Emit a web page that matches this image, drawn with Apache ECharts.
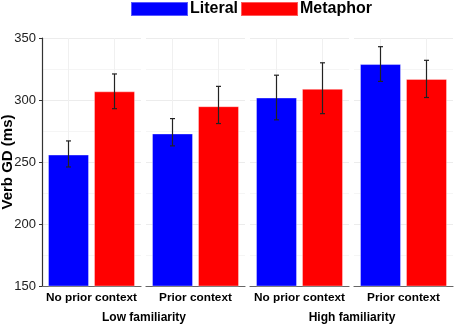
<!DOCTYPE html>
<html>
<head>
<meta charset="utf-8">
<script src="https://cdn.jsdelivr.net/npm/echarts@6/dist/echarts.min.js"></script>
<style>
  html, body { margin: 0; padding: 0; background: #fff; }
  #chart { width: 454px; height: 326px; }
</style>
</head>
<body>
<div id="chart"></div>
<script>
// conditions, one per panel
var conditions = ['No prior context', 'Prior context', 'No prior context', 'Prior context'];
var familiarity = ['Low familiarity', 'High familiarity'];
var seriesNames = ['Literal', 'Metaphor'];
var yTitle = 'Verb GD (ms)';

// means and error bar ends (ms)
var literal = [256, 273, 302, 329];
var literalLow = [246, 263, 284, 315];
var literalHigh = [267, 285, 320, 343];
var metaphor = [307, 295, 309, 317];
var metaphorLow = [293, 281, 289, 302];
var metaphorHigh = [321, 311, 330, 332];

var yTicks = [150, 200, 250, 300, 350];

var FONT = 'Liberation Sans, Arial, sans-serif';
var colors = ['#0000ff', '#ff0000'];
var barW = 41, barGap = 5;
var off = (barW + barGap) / 2;

var panelLeft = [42, 146, 250, 354];
var panelW = 99;
var plotTop = 38, plotH = 248;

var grids = [], xAxes = [], yAxes = [], series = [];

function errRender(offset) {
  return function (params, api) {
    var lo = api.coord([api.value(0), api.value(1)]);
    var hi = api.coord([api.value(0), api.value(2)]);
    var x = lo[0] + offset;
    var cap = 2.5;
    var st = { stroke: '#222', lineWidth: 1.2 };
    return {
      type: 'group',
      children: [
        { type: 'line', shape: { x1: x, y1: lo[1], x2: x, y2: hi[1] }, style: st },
        { type: 'line', shape: { x1: x - cap, y1: lo[1], x2: x + cap, y2: lo[1] }, style: st },
        { type: 'line', shape: { x1: x - cap, y1: hi[1], x2: x + cap, y2: hi[1] }, style: st }
      ]
    };
  };
}

// faint vertical grid lines at bar centres
function vgridRender(params, api) {
  var a = api.coord([0, yTicks[yTicks.length - 1]]);
  var b = api.coord([0, yTicks[0]]);
  var st = { stroke: '#f0f0f0', lineWidth: 1 };
  return {
    type: 'group',
    children: [
      { type: 'line', shape: { x1: a[0] - off, y1: a[1], x2: a[0] - off, y2: b[1] }, style: st },
      { type: 'line', shape: { x1: a[0] + off, y1: a[1], x2: a[0] + off, y2: b[1] }, style: st }
    ]
  };
}

for (var i = 0; i < conditions.length; i++) {
  grids.push({ left: panelLeft[i], width: panelW, top: plotTop, height: plotH });
  xAxes.push({
    type: 'category',
    gridIndex: i,
    data: [conditions[i]],
    axisLine: { show: true, lineStyle: { color: '#666', width: 1.2 } },
    axisTick: { show: false },
    axisLabel: { color: '#000', fontFamily: FONT, fontWeight: 'bold', fontSize: 11.8, margin: 6 },
    splitLine: { show: false }
  });
  yAxes.push({
    type: 'value',
    gridIndex: i,
    min: yTicks[0],
    max: yTicks[yTicks.length - 1],
    interval: 50,
    axisLine: { show: i === 0, lineStyle: { color: '#333', width: 1.2 } },
    axisTick: { show: i === 0, length: 3, lineStyle: { color: '#333' } },
    axisLabel: { show: i === 0, color: '#222', fontFamily: FONT, fontSize: 13, margin: 6 },
    splitLine: { show: true, lineStyle: { color: '#ececec', width: 1 } },
    minorTick: { show: false, splitNumber: 2 },
    minorSplitLine: { show: true, lineStyle: { color: '#f5f5f5', width: 1 } }
  });
  series.push({
    type: 'custom', xAxisIndex: i, yAxisIndex: i, silent: true, z: 1,
    renderItem: vgridRender, data: [[0]]
  });
  series.push({
    name: seriesNames[0], type: 'bar', xAxisIndex: i, yAxisIndex: i,
    barWidth: barW, barGap: (barGap / barW * 100) + '%',
    itemStyle: { color: colors[0], borderColor: 'rgba(255,255,255,0.35)', borderWidth: 1 },
    data: [literal[i]], z: 2
  });
  series.push({
    name: seriesNames[1], type: 'bar', xAxisIndex: i, yAxisIndex: i,
    barWidth: barW,
    itemStyle: { color: colors[1], borderColor: 'rgba(255,255,255,0.35)', borderWidth: 1 },
    data: [metaphor[i]], z: 2
  });
  series.push({
    type: 'custom', xAxisIndex: i, yAxisIndex: i, silent: true, z: 3,
    renderItem: errRender(-off), data: [[0, literalLow[i], literalHigh[i]]]
  });
  series.push({
    type: 'custom', xAxisIndex: i, yAxisIndex: i, silent: true, z: 3,
    renderItem: errRender(off), data: [[0, metaphorLow[i], metaphorHigh[i]]]
  });
}

var chart = echarts.init(document.getElementById('chart'), null, { renderer: 'canvas' });
chart.setOption({
  animation: false,
  backgroundColor: '#fff',
  legend: {
    data: seriesNames,
    left: 130, top: 1,
    padding: 0,
    icon: 'rect',
    itemWidth: 57, itemHeight: 14,
    itemGap: 2,
    textStyle: { color: '#000', fontFamily: FONT, fontWeight: 'bold', fontSize: 16, padding: [0, 0, 0, -3] }
  },
  grid: grids,
  xAxis: xAxes,
  yAxis: yAxes,
  series: series,
  graphic: [
    { type: 'text', x: 8, y: 162, rotation: Math.PI / 2, style: { text: yTitle, fill: '#000', font: 'bold 15px ' + FONT, align: 'center', verticalAlign: 'middle' } },
    { type: 'text', x: 144, y: 318, style: { text: familiarity[0], fill: '#000', font: 'bold 12px ' + FONT, align: 'center', verticalAlign: 'middle' } },
    { type: 'text', x: 352, y: 318, style: { text: familiarity[1], fill: '#000', font: 'bold 12px ' + FONT, align: 'center', verticalAlign: 'middle' } }
  ]
});
</script>
</body>
</html>
